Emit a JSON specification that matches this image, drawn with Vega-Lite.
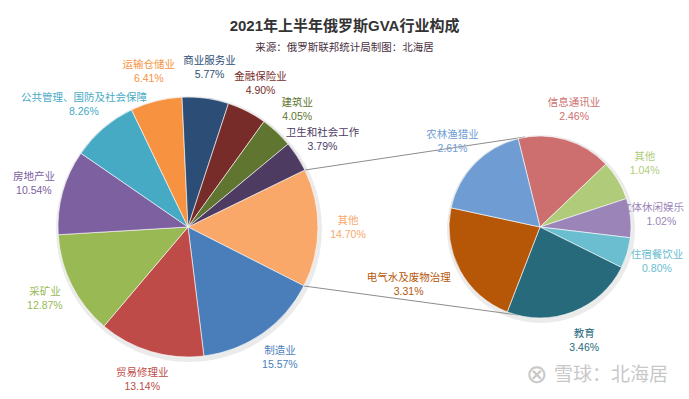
{
  "$schema": "https://vega.github.io/schema/vega-lite/v6.json",
  "width": 689,
  "height": 399,
  "autosize": "none",
  "padding": 0,
  "background": "white",
  "title": {
    "text": "2021年上半年俄罗斯GVA行业构成",
    "subtitle": "来源：俄罗斯联邦统计局制图：北海居",
    "anchor": "middle",
    "offset": -53,
    "font": "Liberation Sans, Noto Sans CJK SC",
    "fontSize": 15,
    "fontWeight": "bold",
    "color": "#333333",
    "subtitleFont": "Noto Sans CJK SC",
    "subtitleFontSize": 10.5,
    "subtitleColor": "#4a3040",
    "subtitlePadding": 9
  },
  "config": {"view": {"stroke": null}},
  "datasets": {
    "slices": [
      {"pie": "主", "k": 0, "name": "其他", "v": 14.70},
      {"pie": "主", "k": 1, "name": "制造业", "v": 15.57},
      {"pie": "主", "k": 2, "name": "贸易修理业", "v": 13.14},
      {"pie": "主", "k": 3, "name": "采矿业", "v": 12.87},
      {"pie": "主", "k": 4, "name": "房地产业", "v": 10.54},
      {"pie": "主", "k": 5, "name": "公共管理、国防及社会保障", "v": 8.26},
      {"pie": "主", "k": 6, "name": "运输仓储业", "v": 6.41},
      {"pie": "主", "k": 7, "name": "商业服务业", "v": 5.77},
      {"pie": "主", "k": 8, "name": "金融保险业", "v": 4.90},
      {"pie": "主", "k": 9, "name": "建筑业", "v": 4.05},
      {"pie": "主", "k": 10, "name": "卫生和社会工作", "v": 3.79},
      {"pie": "次", "k": 0, "name": "信息通讯业", "v": 2.46},
      {"pie": "次", "k": 1, "name": "其他", "v": 1.04},
      {"pie": "次", "k": 2, "name": "文体休闲娱乐", "v": 1.02},
      {"pie": "次", "k": 3, "name": "住宿餐饮业", "v": 0.80},
      {"pie": "次", "k": 4, "name": "教育", "v": 3.46},
      {"pie": "次", "k": 5, "name": "电气水及废物治理", "v": 3.31},
      {"pie": "次", "k": 6, "name": "农林渔猎业", "v": 2.61}
    ]
  },
  "layer": [
    {
      "data": {"values": [{"pie": "主"}]},
      "mark": {"type": "arc", "outerRadius": 133, "theta": 0, "theta2": 6.2832, "fill": "#000000", "opacity": 0.08, "xOffset": 1, "yOffset": 2},
      "encoding": {
        "x": {"field": "pie", "type": "nominal", "scale": {"type": "point", "domain": ["主", "次"], "range": [188, 540], "padding": 0}, "axis": null},
        "y": {"field": "pie", "type": "nominal", "scale": {"type": "point", "domain": ["主", "次"], "range": [227, 227], "padding": 0}, "axis": null}
      }
    },
    {
      "data": {"values": [{"pie": "次"}]},
      "mark": {"type": "arc", "outerRadius": 94, "theta": 0, "theta2": 6.2832, "fill": "#000000", "opacity": 0.08, "xOffset": 1, "yOffset": 2},
      "encoding": {
        "x": {"field": "pie", "type": "nominal", "scale": {"type": "point", "domain": ["主", "次"], "range": [188, 540], "padding": 0}, "axis": null},
        "y": {"field": "pie", "type": "nominal", "scale": {"type": "point", "domain": ["主", "次"], "range": [227, 227], "padding": 0}, "axis": null}
      }
    },
    {
      "data": {"values": [{"from": "主", "to": "次"}]},
      "mark": {"type": "rule", "color": "#8c8c8c", "strokeWidth": 1, "xOffset": 117, "yOffset": -57, "x2Offset": -15, "y2Offset": -90},
      "encoding": {
        "x": {"field": "from", "type": "nominal", "scale": {"type": "point", "domain": ["主", "次"], "range": [188, 540], "padding": 0}, "axis": null},
        "x2": {"field": "to"},
        "y": {"field": "from", "type": "nominal", "scale": {"type": "point", "domain": ["主", "次"], "range": [227, 227], "padding": 0}, "axis": null},
        "y2": {"field": "to"}
      }
    },
    {
      "data": {"values": [{"from": "主", "to": "次"}]},
      "mark": {"type": "rule", "color": "#8c8c8c", "strokeWidth": 1, "xOffset": 116, "yOffset": 59, "x2Offset": -22, "y2Offset": 88},
      "encoding": {
        "x": {"field": "from", "type": "nominal", "scale": {"type": "point", "domain": ["主", "次"], "range": [188, 540], "padding": 0}, "axis": null},
        "x2": {"field": "to"},
        "y": {"field": "from", "type": "nominal", "scale": {"type": "point", "domain": ["主", "次"], "range": [227, 227], "padding": 0}, "axis": null},
        "y2": {"field": "to"}
      }
    },
    {
      "data": {"name": "slices"},
      "transform": [
        {"filter": "datum.pie === '主'"},
        {"calculate": "format(datum.v, '.2f') + '%'", "as": "pct"}
      ],
      "encoding": {
        "x": {"field": "pie", "type": "nominal", "scale": {"type": "point", "domain": ["主", "次"], "range": [188, 540], "padding": 0}, "axis": null},
        "y": {"field": "pie", "type": "nominal", "scale": {"type": "point", "domain": ["主", "次"], "range": [227, 227], "padding": 0}, "axis": null},
        "theta": {"field": "v", "type": "quantitative", "stack": true, "scale": {"range": [1.117, 7.4002]}},
        "order": {"field": "k", "type": "quantitative"},
        "color": {
          "field": "name", "type": "nominal", "legend": null,
          "scale": {
            "domain": ["其他", "制造业", "贸易修理业", "采矿业", "房地产业", "公共管理、国防及社会保障", "运输仓储业", "商业服务业", "金融保险业", "建筑业", "卫生和社会工作"],
            "range": ["#f9a869", "#4a7ebb", "#be4b48", "#98b954", "#7d60a0", "#46aac5", "#f69240", "#2c4d75", "#772c2a", "#5f7530", "#4d3b62"]
          }
        }
      },
      "layer": [
        {"mark": {"type": "arc", "outerRadius": 130, "stroke": "#ffffff", "strokeWidth": 0.6}},
        {"mark": {"type": "text", "radius": 160, "dy": -7, "fontSize": 10.5, "font": "Noto Sans CJK SC"}, "encoding": {"text": {"field": "name"}}},
        {"mark": {"type": "text", "radius": 160, "dy": 7, "fontSize": 10.5, "font": "Liberation Sans"}, "encoding": {"text": {"field": "pct"}}}
      ]
    },
    {
      "data": {"name": "slices"},
      "transform": [
        {"filter": "datum.pie === '次'"},
        {"calculate": "format(datum.v, '.2f') + '%'", "as": "pct"}
      ],
      "encoding": {
        "x": {"field": "pie", "type": "nominal", "scale": {"type": "point", "domain": ["主", "次"], "range": [188, 540], "padding": 0}, "axis": null},
        "y": {"field": "pie", "type": "nominal", "scale": {"type": "point", "domain": ["主", "次"], "range": [227, 227], "padding": 0}, "axis": null},
        "theta": {"field": "v", "type": "quantitative", "stack": true, "scale": {"range": [-0.2426, 6.0406]}},
        "order": {"field": "k", "type": "quantitative"},
        "color": {
          "field": "name", "type": "nominal", "legend": null,
          "scale": {
            "domain": ["信息通讯业", "其他", "文体休闲娱乐", "住宿餐饮业", "教育", "电气水及废物治理", "农林渔猎业"],
            "range": ["#cd6f6e", "#b0cc7a", "#9b84b8", "#6bbdd0", "#276a7c", "#b65708", "#6f9dd3"]
          }
        }
      },
      "layer": [
        {"mark": {"type": "arc", "outerRadius": 91, "stroke": "#ffffff", "strokeWidth": 0.6}},
        {"mark": {"type": "text", "radius": 122, "dy": -7, "fontSize": 10.5, "font": "Noto Sans CJK SC", "dx": {"expr": "datum.name === '电气水及废物治理' ? -24 : (datum.name === '文体休闲娱乐' ? -9 : 0)"}}, "encoding": {"text": {"field": "name"}}},
        {"mark": {"type": "text", "radius": 122, "dy": 7, "fontSize": 10.5, "font": "Liberation Sans", "dx": {"expr": "datum.name === '电气水及废物治理' ? -24 : 0"}}, "encoding": {"text": {"field": "pct"}}}
      ]
    },
    {
      "data": {"values": [{"t": "⊗"}]},
      "mark": {"type": "text", "x": {"expr": "width - 152"}, "y": {"expr": "height - 24"}, "align": "center", "baseline": "middle", "fontSize": 26, "font": "DejaVu Sans", "fill": "#c8c8c8"},
      "encoding": {"text": {"field": "t"}}
    },
    {
      "data": {"values": [{"t": "雪球：北海居"}]},
      "mark": {"type": "text", "x": {"expr": "width - 21"}, "y": {"expr": "height - 24"}, "align": "right", "baseline": "middle", "fontSize": 19, "font": "Noto Sans CJK SC", "fill": "#c8c8c8"},
      "encoding": {"text": {"field": "t"}}
    }
  ],
  "resolve": {"scale": {"theta": "independent", "color": "independent"}}
}
